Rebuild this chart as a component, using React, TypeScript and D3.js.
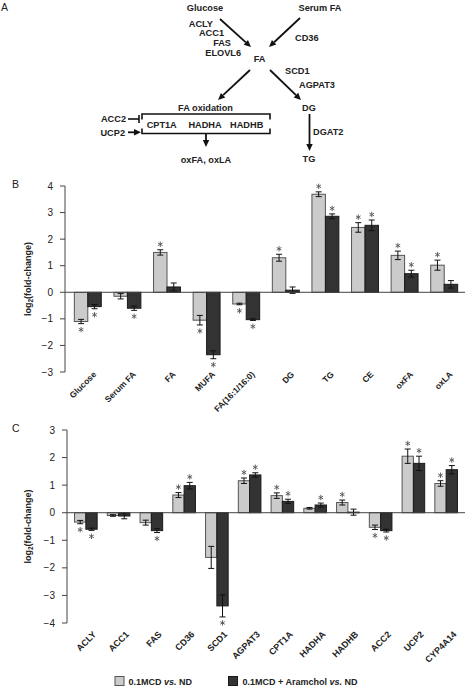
import React from "react";
import * as d3 from "d3";

const catsB = ["Glucose", "Serum FA", "FA", "MUFA", "FA(16:1/16:0)", "DG", "TG", "CE", "oxFA", "oxLA"];
const mcdB = [-1.1, -0.15, 1.5, -1.05, -0.44, 1.3, 3.69, 2.44, 1.39, 1.02];
const mcdBErr = [0.08, 0.1, 0.1, 0.18, 0.03, 0.13, 0.09, 0.18, 0.16, 0.19];
const araB = [-0.54, -0.6, 0.2, -2.35, -1.03, 0.08, 2.86, 2.52, 0.7, 0.3];
const araBErr = [0.08, 0.08, 0.15, 0.15, 0.03, 0.12, 0.09, 0.2, 0.13, 0.14];
const mcdBSig = [true, false, true, true, true, true, true, true, true, true];
const araBSig = [true, true, false, true, true, false, true, true, true, false];
const ticksB = [4, 3, 2, 1, 0, -1, -2, -3];

const catsC = ["ACLY", "ACC1", "FAS", "CD36", "SCD1", "AGPAT3", "CPT1A", "HADHA", "HADHB", "ACC2", "UCP2", "CYP4A14"];
const mcdC = [-0.34, -0.1, -0.36, 0.64, -1.62, 1.16, 0.62, 0.16, 0.37, -0.53, 2.05, 1.06];
const mcdCErr = [0.06, 0.03, 0.09, 0.09, 0.4, 0.1, 0.1, 0.03, 0.09, 0.08, 0.26, 0.1];
const araC = [-0.6, -0.12, -0.65, 0.98, -3.38, 1.37, 0.41, 0.28, 0.02, -0.65, 1.79, 1.56];
const araCErr = [0.04, 0.1, 0.07, 0.12, 0.4, 0.08, 0.08, 0.07, 0.11, 0.05, 0.26, 0.15];
const mcdCSig = [true, false, false, true, false, true, true, false, true, true, true, true];
const araCSig = [true, false, true, true, true, true, true, true, false, true, true, true];
const ticksC = [3, 2, 1, 0, -1, -2, -3, -4];

const seriesNames = ["0.1MCD", "0.1MCD + Aramchol"];

const FONT = "'Liberation Sans', Arial, Helvetica, sans-serif";
const LIGHT = "#cbcbcb";
const DARK = "#333333";

function Star({ cx, cy }: { cx: number; cy: number }) {
  const r = 2.7;
  const d = [90, 30, 150].map(a => {
    const dx = r * Math.cos((a * Math.PI) / 180), dy = r * Math.sin((a * Math.PI) / 180);
    return `M${cx - dx},${cy - dy}L${cx + dx},${cy + dy}`;
  }).join("");
  return <path d={d} stroke="#555" strokeWidth={0.9} fill="none" />;
}

type PanelProps = {
  letter: string;
  letterY: number;
  cats: string[];
  a: number[]; aErr: number[]; aSig: boolean[];
  b: number[]; bErr: number[]; bSig: boolean[];
  ticks: number[];
  axisX: number;
  yTop: number; yBottom: number;
  pIn: number; pOut: number;
  labelY: number; labelDx: number; labelSize: number;
};

function Panel(p: PanelProps) {
  const dom = d3.extent(p.ticks) as [number, number];
  const y = d3.scaleLinear().domain(dom).range([p.yBottom, p.yTop]);
  const x = d3.scaleBand<string>().domain(p.cats).range([68, 464]).paddingInner(p.pIn).paddingOuter(p.pOut);
  const bw = x.bandwidth() / 2;
  const fmt = d3.format("d");
  const bars: React.ReactNode[] = [];
  p.cats.forEach((c, i) => {
    const x0 = x(c)!;
    [[p.a[i], p.aErr[i], p.aSig[i], LIGHT, "#555"], [p.b[i], p.bErr[i], p.bSig[i], DARK, "#1a1a1a"]].forEach((s: any, j) => {
      const [v, e, sig, fill, stroke] = s;
      const bx = x0 + j * bw;
      const cx = bx + bw / 2;
      const yv = y(v), y0 = y(0);
      bars.push(
        <rect key={`r${i}-${j}`} x={bx} y={Math.min(yv, y0)} width={bw} height={Math.max(Math.abs(yv - y0), 0.6)}
          fill={fill} stroke={stroke} strokeWidth={1} />
      );
      const ya = y(v + e), yb = y(v - e);
      bars.push(
        <g key={`e${i}-${j}`} stroke="#111" strokeWidth={1}>
          <line x1={cx} x2={cx} y1={ya} y2={yb} />
          <line x1={cx - 3} x2={cx + 3} y1={ya} y2={ya} />
          <line x1={cx - 3} x2={cx + 3} y1={yb} y2={yb} />
        </g>
      );
      if (sig) {
        const cy = v >= 0 ? ya - 5.5 : yb + 6;
        bars.push(<Star key={`s${i}-${j}`} cx={cx} cy={cy} />);
      }
    });
  });
  const midY = (p.yTop + p.yBottom) / 2;
  return (
    <g>
      <text x={12} y={p.letterY} fontSize={10.5} fontFamily={FONT} fill="#222">{p.letter}</text>
      <text transform={`translate(31,${midY}) rotate(-90)`} textAnchor="middle" fontSize={9} fontWeight="bold" fontFamily={FONT} fill="#222">
        log<tspan fontSize={6.5} dy={2}>2</tspan><tspan dy={-2}>(fold-change)</tspan>
      </text>
      <line x1={p.axisX} x2={p.axisX} y1={p.yTop} y2={p.yBottom} stroke="#444" strokeWidth={1} />
      {p.ticks.map(t => (
        <g key={t}>
          <line x1={p.axisX - 5} x2={p.axisX} y1={y(t)} y2={y(t)} stroke="#444" strokeWidth={1} />
          <text x={p.axisX - 12} y={y(t) + 3.6} textAnchor="end" fontSize={10} fontFamily={FONT} fill="#222">{fmt(t)}</text>
        </g>
      ))}
      {bars}
      <line x1={p.axisX} x2={465} y1={y(0)} y2={y(0)} stroke="#444" strokeWidth={1} />
      {p.cats.map(c => (
        <text key={c} transform={`translate(${x(c)! + x.bandwidth() / 2 + p.labelDx},${p.labelY}) rotate(-45)`}
          textAnchor="end" fontSize={p.labelSize} fontWeight="bold" fontFamily={FONT} fill="#222">{c}</text>
      ))}
    </g>
  );
}

function Arrow({ x1, y1, x2, y2 }: { x1: number; y1: number; x2: number; y2: number }) {
  const ang = Math.atan2(y2 - y1, x2 - x1);
  const L = 7, W = 3.2;
  const bx = x2 - L * Math.cos(ang), by = y2 - L * Math.sin(ang);
  const px = -Math.sin(ang) * W, py = Math.cos(ang) * W;
  return (
    <g>
      <line x1={x1} y1={y1} x2={bx} y2={by} stroke="#111" strokeWidth={1.8} />
      <path d={`M${x2},${y2}L${bx + px},${by + py}L${bx - px},${by - py}Z`} fill="#111" />
    </g>
  );
}

function Diagram() {
  const t = (s: string, x: number, y: number, anchor: string = "middle") => (
    <text x={x} y={y} textAnchor={anchor as any} fontSize={9.2} fontWeight="bold" fontFamily={FONT} fill="#222">{s}</text>
  );
  return (
    <g>
      <text x={1} y={11} fontSize={10.5} fontFamily={FONT} fill="#222">A</text>
      {t("Glucose", 205, 11)}
      {t("Serum FA", 320, 11)}
      {t("ACLY", 213, 26.5, "end")}
      {t("ACC1", 224, 36, "end")}
      {t("FAS", 231, 46, "end")}
      {t("ELOVL6", 241, 56, "end")}
      {t("CD36", 295, 41, "start")}
      {t("FA", 259.5, 62)}
      {t("SCD1", 285, 74, "start")}
      {t("AGPAT3", 299, 88, "start")}
      {t("DG", 309, 111)}
      {t("DGAT2", 313, 135, "start")}
      {t("TG", 309, 162)}
      {t("FA oxidation", 205.5, 111)}
      {t("CPT1A", 161.7, 128)}
      {t("HADHA", 205, 128)}
      {t("HADHB", 246.7, 128)}
      {t("ACC2", 126, 121.5, "end")}
      {t("UCP2", 125, 136, "end")}
      {t("oxFA, oxLA", 206, 162.5)}
      <Arrow x1={220} y1={19} x2={251} y2={47} />
      <Arrow x1={300} y1={18} x2={269} y2={47} />
      <Arrow x1={250} y1={70} x2={218} y2={100} />
      <Arrow x1={270} y1={70} x2={301} y2={100} />
      <Arrow x1={309.5} y1={114} x2={309.5} y2={151} />
      <Arrow x1={206} y1={133} x2={206} y2={147} />
      <Arrow x1={128} y1={132.3} x2={141} y2={132.3} />
      <g stroke="#111" strokeWidth={1.6} fill="none">
        <line x1={128} x2={139} y1={119} y2={119} />
        <line x1={139} x2={139} y1={115} y2={123} />
        <path d="M142,119.5V114H270V119.5" />
        <path d="M142,128.5V133.5H270V128.5" />
      </g>
    </g>
  );
}

export default function App() {
  return (
    <svg width={467} height={688} style={{ position: "absolute", left: 0, top: 0, background: "#fff" }}>
      <rect width={467} height={688} fill="#fff" />
      <Diagram />
      <Panel letter="B" letterY={188} cats={catsB} a={mcdB} aErr={mcdBErr} aSig={mcdBSig} b={araB} bErr={araBErr} bSig={araBSig}
        ticks={ticksB} axisX={65} yTop={186} yBottom={372} pIn={0.32} pOut={0.16} labelY={375} labelDx={9} labelSize={8.5} />
      <Panel letter="C" letterY={432} cats={catsC} a={mcdC} aErr={mcdCErr} aSig={mcdCSig} b={araC} bErr={araCErr} bSig={araCSig}
        ticks={ticksC} axisX={67} yTop={430} yBottom={623} pIn={0.31} pOut={0.2} labelY={635} labelDx={11} labelSize={9} />
      <g fontFamily={FONT} fontSize={9} fontWeight="bold" fill="#222">
        <rect x={115} y={676.5} width={9} height={9} fill={LIGHT} stroke="#555" />
        <text x={128.5} y={685}>{seriesNames[0]} <tspan fontStyle="italic">vs.</tspan> ND</text>
        <rect x={228.5} y={676.5} width={9} height={9} fill={DARK} stroke="#1a1a1a" />
        <text x={242.5} y={685}>{seriesNames[1]} <tspan fontStyle="italic">vs.</tspan> ND</text>
      </g>
    </svg>
  );
}
